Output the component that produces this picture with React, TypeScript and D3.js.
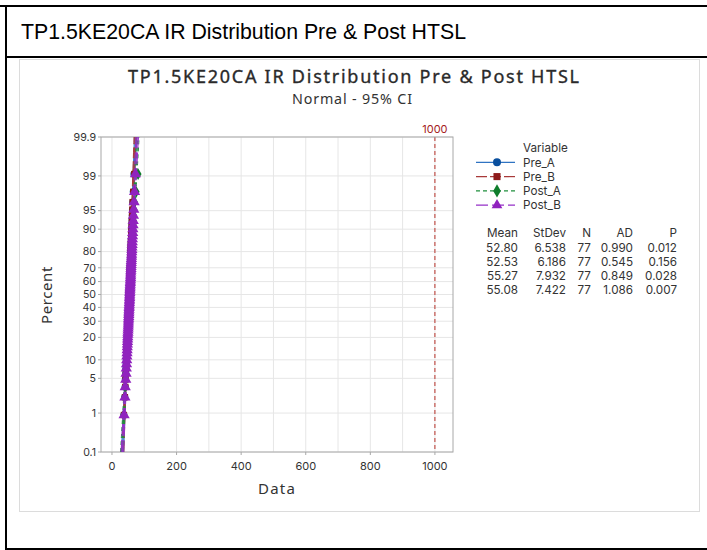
import React from 'react';
import * as d3 from 'd3';

const seriesNames = ['Pre_A', 'Pre_B', 'Post_A', 'Post_B'];

const preA = [36.8, 39.6, 40.9, 41.5, 42.7, 43.3, 43.9, 44.4, 44.9, 45.3, 45.7, 46.1, 46.4, 46.7, 47.1, 47.4, 47.7, 47.9, 48.2, 48.5, 48.8, 49.0, 49.2, 49.5, 49.7, 50.0, 50.2, 50.4, 50.6, 50.9, 51.1, 51.3, 51.5, 51.7, 52.0, 52.2, 52.4, 52.6, 52.8,
  53.0, 53.2, 53.4, 53.7, 53.9, 54.1, 54.3, 54.5, 54.7, 55.0, 55.2, 55.4, 55.6, 55.9, 56.1, 56.4, 56.6, 56.9, 57.1, 57.4, 57.7, 57.9, 58.2, 58.5, 58.9, 59.2, 59.5, 59.9, 60.3, 60.7, 61.2, 61.7, 62.3, 62.9, 63.7, 64.7, 66.0, 68.0];
const preB = [37.0, 40.1, 41.3, 41.8, 42.9, 43.6, 44.1, 44.6, 45.0, 45.4, 45.8, 46.2, 46.5, 46.8, 47.1, 47.4, 47.7, 47.9, 48.2, 48.4, 48.7, 48.9, 49.2, 49.4, 49.6, 49.8, 50.1, 50.3, 50.5, 50.7, 50.9, 51.1, 51.3, 51.5, 51.7, 51.9, 52.1, 52.3, 52.5,
  52.7, 52.9, 53.1, 53.3, 53.5, 53.7, 53.9, 54.2, 54.4, 54.6, 54.8, 55.0, 55.2, 55.4, 55.7, 55.9, 56.1, 56.4, 56.6, 56.9, 57.1, 57.4, 57.7, 58.0, 58.3, 58.6, 58.9, 59.3, 59.6, 60.0, 60.5, 61.0, 61.5, 62.1, 62.9, 63.8, 65.5, 68.9];
const postA = [36.5, 39.3, 40.9, 42.1, 43.0, 43.8, 44.5, 45.1, 45.6, 46.2, 46.6, 47.1, 47.5, 47.9, 48.3, 48.7, 49.0, 49.4, 49.7, 50.0, 50.4, 50.7, 51.0, 51.3, 51.5, 51.8, 52.1, 52.4, 52.7, 52.9, 53.2, 53.5, 53.7, 54.0, 54.2, 54.5, 54.8, 55.0, 55.3,
  55.5, 55.8, 56.0, 56.3, 56.6, 56.8, 57.1, 57.4, 57.6, 57.9, 58.2, 58.4, 58.7, 59.0, 59.3, 59.6, 59.9, 60.2, 60.5, 60.8, 61.2, 61.5, 61.9, 62.2, 62.6, 63.0, 63.5, 63.9, 64.4, 64.9, 65.4, 66.1, 66.8, 67.6, 68.5, 69.7, 75.0, 81.0];
const postB = [37.5, 40.1, 41.0, 42.7, 43.6, 44.3, 45.0, 45.6, 46.1, 46.6, 47.0, 47.4, 47.8, 48.2, 48.6, 48.9, 49.3, 49.6, 49.9, 50.2, 50.5, 50.8, 51.0, 51.3, 51.6, 51.9, 52.1, 52.4, 52.6, 52.9, 53.1, 53.4, 53.6, 53.9, 54.1, 54.4, 54.6, 54.8, 55.1,
  55.3, 55.6, 55.8, 56.0, 56.3, 56.5, 56.8, 57.0, 57.3, 57.5, 57.8, 58.0, 58.3, 58.6, 58.9, 59.1, 59.4, 59.7, 60.0, 60.3, 60.6, 60.9, 61.3, 61.6, 62.0, 62.4, 62.8, 63.2, 63.7, 64.2, 64.6, 65.2, 65.8, 66.5, 67.5, 68.5, 70.0, 72.6];

const means = [52.80, 52.53, 55.27, 55.08];
const stdevs = [6.538, 6.186, 7.932, 7.422];
const ns = [77, 77, 77, 77];
const ads = ['0.990', '0.545', '0.849', '1.086'];
const pvals = ['0.012', '0.156', '0.028', '0.007'];
const statHeaders = ['Mean', 'StDev', 'N', 'AD', 'P'];

const yTicks = [0.1, 1, 5, 10, 20, 30, 40, 50, 60, 70, 80, 90, 95, 99, 99.9];
const xTicks = [0, 200, 400, 600, 800, 1000];
const xGridTicks = [0, 100, 200, 300, 400, 500, 600, 700, 800, 900, 1000];
const refValue = 1000;

const seriesData = [preA, preB, postA, postB];
const markerColors = ['#0A4F9E', '#8E1B1B', '#0F7D2C', '#9022BE'];
const lineColors = ['#2F73C2', '#A83A3A', '#1F8F3D', '#9531C8'];
const dashes = ['none', '11,3', '4,3', '12,4'];
const symbols = [d3.symbolCircle, d3.symbolSquare, d3.symbolDiamond, d3.symbolTriangle];
const markerSizes = [40, 40, 40, 55];

function probit(p: number): number {
  const a = [-3.969683028665376e+01, 2.209460984245205e+02, -2.759285104469687e+02, 1.383577518672690e+02, -3.066479806614716e+01, 2.506628277459239e+00];
  const b = [-5.447609879822406e+01, 1.615858368580409e+02, -1.556989798598866e+02, 6.680131188771972e+01, -1.328068155288572e+01];
  const c = [-7.784894002430293e-03, -3.223964580411365e-01, -2.400758277161838e+00, -2.549732539343734e+00, 4.374664141464968e+00, 2.938163982698783e+00];
  const d = [7.784695709041462e-03, 3.224671290700398e-01, 2.445134137142996e+00, 3.754408661907416e+00];
  const pl = 0.02425, ph = 1 - pl;
  if (p < pl) {
    const q = Math.sqrt(-2 * Math.log(p));
    return (((((c[0] * q + c[1]) * q + c[2]) * q + c[3]) * q + c[4]) * q + c[5]) / ((((d[0] * q + d[1]) * q + d[2]) * q + d[3]) * q + 1);
  }
  if (p <= ph) {
    const q = p - 0.5, r = q * q;
    return (((((a[0] * r + a[1]) * r + a[2]) * r + a[3]) * r + a[4]) * r + a[5]) * q / (((((b[0] * r + b[1]) * r + b[2]) * r + b[3]) * r + b[4]) * r + 1);
  }
  const q = Math.sqrt(-2 * Math.log(1 - p));
  return -(((((c[0] * q + c[1]) * q + c[2]) * q + c[3]) * q + c[4]) * q + c[5]) / ((((d[0] * q + d[1]) * q + d[2]) * q + d[3]) * q + 1);
}

const PL = 101, PR = 453, PT = 137, PB = 452;
const FONT = '"Noto Sans", "Open Sans", sans-serif';
const SMALL = 'Inter, "Noto Sans", sans-serif';
const TXT = '#333333';

export default function App() {
  const x = d3.scaleLinear().domain([-34, 1056]).range([PL, PR]);
  const zLo = probit(0.001), zHi = probit(0.999);
  const y = d3.scaleLinear().domain([zLo, zHi]).range([PB, PT]);
  const zs = d3.range(zLo, zHi + 0.0001, (zHi - zLo) / 60);
  const line = d3.line<[number, number]>().x(d => x(d[0])).y(d => y(d[1]));

  const rowStep = 14.3;
  const legendTop = 148;
  const tableTop = 233;
  const colRight = [518, 566, 591, 633, 677];

  return (
    <svg width={707} height={550} style={{ position: 'absolute', left: 0, top: 0, background: '#fff' }}>
      {/* page frame */}
      <line x1={0} x2={707} y1={6} y2={6} stroke="#000" strokeWidth={2} />
      <line x1={6} x2={6} y1={5} y2={550} stroke="#000" strokeWidth={2} />
      <line x1={6} x2={707} y1={57} y2={57} stroke="#000" strokeWidth={2} />
      <line x1={6} x2={707} y1={549} y2={549} stroke="#000" strokeWidth={2} />
      <text x={21} y={39} fontFamily='"Liberation Sans", Arial, sans-serif' fontSize={21.3} fill="#000">TP1.5KE20CA IR Distribution Pre &amp; Post HTSL</text>

      {/* graph window */}
      <rect x={19.5} y={59.5} width={680} height={452} fill="#fff" stroke="#DCDCDC" />
      <text x={128} y={83} textLength={451} lengthAdjust="spacing" fontFamily={FONT} fontSize={18} fill="#2a2a2a" stroke="#2a2a2a" strokeWidth={0.35}>TP1.5KE20CA IR Distribution Pre &amp; Post HTSL</text>
      <text x={292} y={104} textLength={120} lengthAdjust="spacing" fontFamily={FONT} fontSize={14.3} fill={TXT}>Normal - 95% CI</text>

      {/* grid */}
      {xGridTicks.map(t => (
        <line key={'gx' + t} x1={x(t)} x2={x(t)} y1={PT} y2={PB} stroke="#E6E6E6" />
      ))}
      {yTicks.map(t => (
        <line key={'gy' + t} x1={PL} x2={PR} y1={y(probit(t / 100))} y2={y(probit(t / 100))} stroke="#E6E6E6" />
      ))}

      {/* reference line */}
      <line x1={x(refValue)} x2={x(refValue)} y1={PT} y2={PB} stroke="#B8312A" strokeDasharray="4,3" />
      <text x={x(refValue)} y={133} textAnchor="middle" fontFamily={SMALL} fontSize={11} fill="#A52222">{refValue}</text>

      {/* plot box */}
      <rect x={PL} y={PT} width={PR - PL} height={PB - PT} fill="none" stroke="#A8A8A8" />

      {/* axes ticks and labels */}
      {yTicks.map(t => (
        <g key={'ty' + t}>
          <line x1={PL - 3} x2={PL} y1={y(probit(t / 100))} y2={y(probit(t / 100))} stroke="#A8A8A8" />
          <text x={PL - 5} y={y(probit(t / 100))} dy="0.36em" textAnchor="end" fontFamily={SMALL} fontSize={10.6} fill={TXT}>{t}</text>
        </g>
      ))}
      {xTicks.map(t => (
        <g key={'tx' + t}>
          <line x1={x(t)} x2={x(t)} y1={PB} y2={PB + 3} stroke="#A8A8A8" />
          <text x={x(t)} y={PB + 18} textAnchor="middle" fontFamily={SMALL} fontSize={11} fill={TXT}>{t}</text>
        </g>
      ))}
      <text x={277} y={494} textAnchor="middle" fontFamily={FONT} fontSize={15} letterSpacing={1.2} fill={TXT}>Data</text>
      <text transform={`translate(52,295) rotate(-90)`} textAnchor="middle" fontFamily={FONT} fontSize={15} letterSpacing={0.6} fill={TXT}>Percent</text>

      {/* series */}
      {seriesData.map((vals, si) => {
        const m = means[si], s = stdevs[si], n = ns[si];
        const fit: [number, number][] = [[m + s * zLo, zLo], [m + s * zHi, zHi]];
        const lo: [number, number][] = zs.map(z => [m + s * z - 1.96 * s * Math.sqrt((1 + z * z / 2) / n), z]);
        const hi: [number, number][] = zs.map(z => [m + s * z + 1.96 * s * Math.sqrt((1 + z * z / 2) / n), z]);
        const sorted = [...vals].sort((a, b) => a - b);
        const N = sorted.length;
        return (
          <g key={seriesNames[si]}>
            <path d={line(fit) || ''} fill="none" stroke={lineColors[si]} strokeWidth={1.3} strokeDasharray={dashes[si]} />
            <path d={line(lo) || ''} fill="none" stroke={lineColors[si]} strokeDasharray={dashes[si]} />
            <path d={line(hi) || ''} fill="none" stroke={lineColors[si]} strokeDasharray={dashes[si]} />
            {sorted.map((v, i) => (
              <path key={i}
                transform={`translate(${x(v)},${y(probit((i + 1 - 0.3) / (N + 0.4)))})`}
                d={d3.symbol().type(symbols[si]).size(markerSizes[si])() || ''}
                fill={markerColors[si]} />
            ))}
          </g>
        );
      })}

      {/* legend */}
      <text x={523} y={legendTop} dy="0.36em" fontFamily={SMALL} fontSize={11.7} fill={TXT}>Variable</text>
      {seriesNames.map((name, i) => {
        const ly = legendTop + rowStep * (i + 1);
        return (
          <g key={'lg' + name}>
            <line x1={476} x2={515} y1={ly} y2={ly} stroke={lineColors[i]} strokeWidth={1.2} strokeDasharray={dashes[i]} />
            <path transform={`translate(497,${ly})`} d={d3.symbol().type(symbols[i]).size(50)() || ''} fill={markerColors[i]} />
            <text x={523} y={ly} dy="0.36em" fontFamily={SMALL} fontSize={11.7} fill={TXT}>{name}</text>
          </g>
        );
      })}

      {/* stats table */}
      {statHeaders.map((h, j) => (
        <text key={'h' + h} x={colRight[j]} y={tableTop} dy="0.36em" textAnchor="end" fontFamily={SMALL} fontSize={11.7} fill={TXT}>{h}</text>
      ))}
      {seriesNames.map((name, i) => {
        const cells = [means[i].toFixed(2), stdevs[i].toFixed(3), String(ns[i]), ads[i], pvals[i]];
        const ry = tableTop + rowStep * (i + 1);
        return cells.map((c, j) => (
          <text key={name + j} x={colRight[j]} y={ry} dy="0.36em" textAnchor="end" fontFamily={SMALL} fontSize={11.7} fill={TXT}>{c}</text>
        ));
      })}
    </svg>
  );
}
